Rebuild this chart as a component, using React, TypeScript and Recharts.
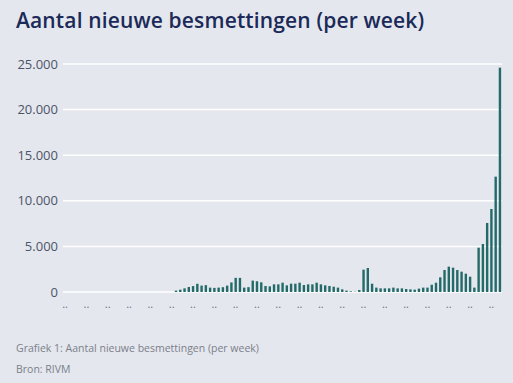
import React from "react";
import { BarChart, Bar, XAxis, YAxis, CartesianGrid } from "recharts";

// Weekly new infections (103 weeks)
const weekValues: number[] = [
  0, 0, 0, 0, 0, 0, 0, 0, 0, 0,
  0, 0, 0, 0, 0, 0, 0, 0, 0, 0,
  0, 0, 0, 0, 0, 0, 150, 250, 400, 550,
  650, 900, 700, 750, 480, 450, 480, 530, 700, 1050,
  1550, 1550, 480, 530, 1250, 1170, 1060, 660, 620, 840,
  840, 1020, 730, 910, 910, 1020, 770, 840, 840, 1020,
  840, 730, 660, 580, 480, 290, 150, 70, 30, 220,
  2450, 2630, 910, 480, 400, 400, 400, 480, 400, 400,
  330, 290, 260, 370, 480, 480, 800, 1020, 1610, 2410,
  2780, 2670, 2410, 2230, 2010, 1680, 480, 4860, 5260, 7570,
  9100, 12650, 24600,
];

const weekCategories: string[] = weekValues.map((_, i) => `week ${i + 1}`);
const xTickLabel = "..";
const yTicks: number[] = [0, 5000, 10000, 15000, 20000, 25000];

const title = "Aantal nieuwe besmettingen (per week)";
const caption = "Grafiek 1: Aantal nieuwe besmettingen (per week)";
const source = "Bron: RIVM";

const data = weekCategories.map((week, i) => ({ week, value: weekValues[i] }));

const fmt = (v: number) => (v === 0 ? "0" : v.toLocaleString("de-DE"));

export default function App() {
  return (
    <div
      style={{
        position: "absolute",
        left: 0,
        top: 0,
        width: 513,
        height: 383,
        background: "#e4e7ee",
        overflow: "hidden",
      }}
    >
      <div
        style={{
          position: "absolute",
          left: 16,
          top: 6,
          fontFamily: "'Open Sans', sans-serif",
          fontWeight: 600,
          fontSize: 21,
          letterSpacing: 0.15,
          color: "#1b2a58",
          whiteSpace: "nowrap",
        }}
      >
        {title}
      </div>
      <div style={{ position: "absolute", left: 0, top: 0 }}>
        <BarChart
          width={513}
          height={330}
          data={data}
          margin={{ top: 64, right: 11, left: 0, bottom: 8 }}
          barSize={2.4}
        >
          <CartesianGrid vertical={false} stroke="#ffffff" strokeWidth={1.5} />
          <XAxis
            dataKey="week"
            interval={4}
            axisLine={false}
            tickLine={false}
            tickFormatter={() => xTickLabel}
            tick={{ fill: "#6b7180", fontSize: 11, fontFamily: "'Open Sans', sans-serif" }}
          />
          <YAxis
            width={63}
            domain={[0, 25000]}
            ticks={yTicks}
            axisLine={false}
            tickLine={false}
            tickSize={0}
            tickMargin={5}
            tickFormatter={fmt}
            tick={{ fill: "#4d5468", fontSize: 13, fontFamily: "'Open Sans', sans-serif" }}
          />
          <Bar dataKey="value" fill="#236a68" isAnimationActive={false} />
        </BarChart>
      </div>
      <div
        style={{
          position: "absolute",
          left: 16,
          top: 341,
          fontFamily: "'Open Sans', sans-serif",
          fontSize: 10.5,
          color: "#7b808a",
          whiteSpace: "nowrap",
        }}
      >
        {caption}
      </div>
      <div
        style={{
          position: "absolute",
          left: 16,
          top: 362,
          fontFamily: "'Open Sans', sans-serif",
          fontSize: 10.5,
          color: "#7b808a",
          whiteSpace: "nowrap",
        }}
      >
        {source}
      </div>
    </div>
  );
}
